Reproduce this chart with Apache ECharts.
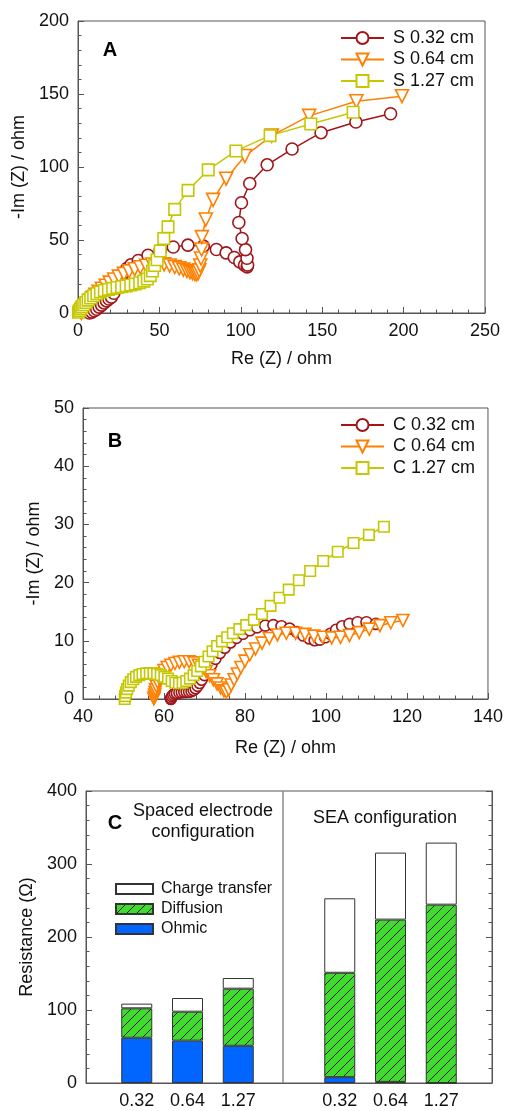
<!DOCTYPE html>
<html>
<head>
<meta charset="utf-8">
<title>Impedance spectra and resistance breakdown</title>
<script src="https://cdn.jsdelivr.net/npm/echarts@6/dist/echarts.min.js"></script>
<style>
  html, body { margin: 0; padding: 0; background: #ffffff; }
  #chart { width: 506px; height: 1111px; }
</style>
</head>
<body>
<div id="chart"></div>
<script>
// ---- Panel A: Nyquist plots, spaced electrodes (Re, -Im in ohm) ----
const s032 = [
  [7, 0], [8.5, 0.6], [10, 1.5], [11.5, 2.6], [13, 4], [14.5, 5.4], [16, 6.9], [17.5, 8.3],
  [19, 9.6], [20.5, 10.9], [22, 13.5], [23.5, 17], [25, 20.5], [26.5, 24], [28, 27.5],
  [30, 30.5], [32.5, 33], [37, 36], [43, 39.6], [50.5, 43], [58.5, 45.2], [67.5, 46.5],
  [77, 45.8], [85, 43.5], [91, 41.2], [96, 38], [99.4, 35], [102.3, 32.8], [103.9, 31.6],
  [104.2, 32.8], [103.8, 37.5], [102.9, 43.4], [100.8, 51], [98.8, 62], [100.4, 75.5],
  [105.5, 88.7], [116.2, 101.5], [131.5, 112.3], [149.3, 123.5], [170.7, 130.8], [192, 136.5]
];
const s064 = [
  [2, 0], [2.5, 1], [3.2, 2.2], [4, 3.5], [5, 5], [6.2, 6.7], [7.5, 8.5], [9, 10.4],
  [10.7, 12.4], [12.6, 14.5], [14.7, 16.6], [17, 18.7], [19.5, 20.8], [22.2, 22.9],
  [25.1, 24.9], [28.2, 26.8], [31.4, 28.5], [34.8, 30], [38.3, 31.3], [41.9, 32.4],
  [45.6, 33.2], [49.3, 33.5], [52.9, 33.3], [56.3, 32.5], [59.4, 31.5], [62.2, 30.6],
  [64.7, 29.7], [66.9, 28.8], [68.8, 28], [70.4, 27.3], [71.8, 26.8], [72.9, 26.6],
  [73.8, 27.3], [74.5, 29.2], [75.1, 32.5], [75.6, 37.3], [75.9, 43.5], [76.1, 52],
  [78.5, 64], [83, 77.5], [91, 92], [102.5, 107.5], [119, 121.5], [142, 135], [171, 145], [199, 148.5]
];
const s127 = [
  [0.3, 0.5], [0.8, 1.5], [1.5, 2.8], [2.4, 4.2], [3.5, 5.7], [4.8, 7.2], [6.2, 8.8],
  [7.8, 10.3], [9.6, 11.8], [11.6, 13.2], [13.8, 14.4], [16.2, 15.4], [18.7, 16.2],
  [21.3, 16.9], [24, 17.5], [26.8, 18], [29.6, 18.6], [32.4, 19.2], [35.2, 19.9],
  [37.9, 20.7], [40.4, 21.8], [42.6, 23.3], [44.4, 25.6], [45.8, 28.8], [47.1, 32.5],
  [48.6, 36.5], [50.5, 42.5], [52.7, 51], [55.3, 59], [59.4, 71], [67.6, 84], [80, 98],
  [97, 111], [118, 121.5], [143, 129.5], [169, 137.5]
];

// ---- Panel B: Nyquist plots, SEA (cloth) configuration ----
const c032 = [
  [61.7, 0], [61.8, 0.2], [62, 0.45], [62.3, 0.7], [62.7, 0.9], [63.2, 1], [63.8, 1.1],
  [64.4, 1.15], [65, 1.2], [65.6, 1.2], [66.2, 1.25], [66.8, 1.35], [67.3, 1.55], [67.8, 1.85],
  [68.3, 2.25], [68.8, 2.75], [69.3, 3.3], [70, 4.1], [70.8, 5], [71.7, 5.9], [72.7, 6.9],
  [73.8, 7.9], [75, 8.8], [76.4, 9.7], [77.9, 10.5], [79.5, 11.2], [81.2, 11.8], [83, 12.3],
  [85, 12.6], [87, 12.7], [89, 12.5], [91, 12.1], [92.8, 11.5], [94.4, 10.9], [95.9, 10.4],
  [97.2, 10.1], [98.5, 10.2], [99.8, 10.6], [101.1, 11.2], [102.5, 11.9], [104, 12.5],
  [105.8, 12.9], [107.8, 13.2], [110, 13.2], [112.3, 12.9]
];
const c064 = [
  [57.5, 0], [57.6, 0.3], [57.7, 0.7], [57.8, 1.1], [57.9, 1.6], [58.1, 2.2], [58.4, 2.9],
  [58.8, 3.6], [59.3, 4.3], [60, 4.9], [60.8, 5.4], [61.7, 5.8], [62.7, 6.1], [63.8, 6.3],
  [65, 6.4], [66.2, 6.4], [67.4, 6.2], [68.5, 5.8], [69.5, 5.3], [70.4, 4.7], [71.3, 4.0],
  [72.2, 3.3], [73.1, 2.6], [74, 1.9], [74.8, 1.4], [75.4, 1.2], [76, 1.6], [76.6, 2.4],
  [77.3, 3.3], [78.1, 4.3], [79, 5.4], [80, 6.5], [81.2, 7.6], [82.6, 8.6], [84.2, 9.6],
  [86, 10.4], [88, 11], [90.2, 11.3], [92.5, 11.3], [94.8, 11.1], [97, 10.8], [99.2, 10.6],
  [101.4, 10.5], [103.6, 10.6], [105.8, 10.9], [108.2, 11.4], [110.7, 12], [113.3, 12.6],
  [116, 13.1], [119, 13.5]
];
const c127 = [
  [50.3, 0], [50.4, 0.5], [50.6, 1.1], [50.9, 1.7], [51.3, 2.3], [51.8, 2.9], [52.4, 3.4],
  [53.1, 3.8], [53.9, 4.1], [54.7, 4.3], [55.6, 4.4], [56.5, 4.4], [57.4, 4.4], [58.3, 4.3],
  [59.2, 4.1], [60.1, 3.8], [61, 3.5], [61.9, 3.1], [62.8, 2.8], [63.7, 2.7], [64.6, 2.8],
  [65.5, 3.1], [66.4, 3.5], [67.3, 4.1], [68.2, 4.8], [69.1, 5.6], [70, 6.4], [71, 7.3],
  [72, 8.2], [73.1, 9.1], [74.3, 9.9], [75.6, 10.6], [77, 11.3], [78.6, 12], [80.3, 12.7],
  [82.2, 13.6], [84.2, 14.6], [86.3, 16], [88.5, 17.4], [90.8, 18.8], [93.3, 20.4],
  [96.1, 22], [99.3, 23.7], [102.9, 25.3], [106.8, 26.8], [110.6, 28.2], [114.3, 29.6]
];

// ---- Panel C: resistance breakdown (ohm) ----
// slots: padding, spaced 0.32/0.64/1.27, gap, SEA 0.32/0.64/1.27, padding
const barSlots = ['pad-l', 'Spaced 0.32', 'Spaced 0.64', 'Spaced 1.27', 'gap',
                  'SEA 0.32', 'SEA 0.64', 'SEA 1.27', 'pad-r'];
const slotLabels = ['', '0.32', '0.64', '1.27', '', '0.32', '0.64', '1.27', ''];
const ohmic          = ['-', 62, 58, 51, '-', 8, 1.5, 0, '-'];
const diffusion      = ['-', 40.3, 39.7, 78.2, '-', 143, 222.3, 244.3, '-'];
const chargeTransfer = ['-', 6.4, 18.7, 14.6, '-', 102, 91.8, 85, '-'];
const dividerPos = 3.875;   // separator between the two configurations

const FONT = 'Arial, "Liberation Sans", Helvetica, sans-serif';
const AXIS = '#555555';
const TXT = '#111111';

const colRed = '#a0161a';
const colOrange = '#ff8000';
const colYellow = '#c4c800';

// diagonal hatch fill for the diffusion bars
function hatchPattern() {
  const c = document.createElement('canvas');
  c.width = 10; c.height = 10;
  const g = c.getContext('2d');
  g.fillStyle = '#3fdc2e';
  g.fillRect(0, 0, 10, 10);
  g.strokeStyle = '#1a1a1a';
  g.lineWidth = 1;
  g.beginPath();
  g.moveTo(-1, 11); g.lineTo(11, -1);
  g.moveTo(-1, 1); g.lineTo(1, -1);
  g.moveTo(9, 11); g.lineTo(11, 9);
  g.stroke();
  return { image: c, repeat: 'repeat' };
}

function valAxis(extra) {
  return Object.assign({
    type: 'value',
    axisLine: { show: true, lineStyle: { color: AXIS, width: 1 } },
    axisTick: { show: true, inside: true, length: 6, lineStyle: { color: AXIS } },
    minorTick: { show: true, splitNumber: 5, length: 3.5, lineStyle: { color: AXIS } },
    splitLine: { show: false },
    axisLabel: { fontSize: 18, color: TXT, fontFamily: FONT, margin: 9 },
    nameLocation: 'middle',
    nameTextStyle: { fontSize: 18, color: TXT, fontFamily: FONT }
  }, extra);
}

function nyquist(name, data, color, symbol, rotate, axisIdx, size) {
  return {
    name: name, type: 'line', data: data,
    xAxisIndex: axisIdx, yAxisIndex: axisIdx,
    symbol: symbol, symbolRotate: rotate, symbolSize: size,
    showAllSymbol: true,
    lineStyle: { color: color, width: 1.5 },
    itemStyle: { color: '#ffffff', borderColor: color, borderWidth: 1.6 },
    emphasis: { disabled: true }
  };
}

function lineLegend(names, top) {
  return {
    data: names, orient: 'vertical', left: 340, top: top, padding: 0,
    itemWidth: 43, itemHeight: 15, itemGap: 3.5,
    textStyle: { fontSize: 18, color: TXT, fontFamily: FONT, padding: [0, 0, 0, 4] },
    selectedMode: false
  };
}

const hatch = hatchPattern();
const barBase = { type: 'bar', stack: 'total', barWidth: 31, xAxisIndex: 2, yAxisIndex: 2,
                  emphasis: { disabled: true } };

const option = {
  animation: false,
  backgroundColor: '#ffffff',
  grid: [
    { left: 78, top: 21, width: 407, height: 292, show: true, borderColor: AXIS, borderWidth: 1 },
    { left: 83, top: 408, width: 406, height: 291, show: true, borderColor: AXIS, borderWidth: 1 },
    { left: 86, top: 791, width: 406, height: 292, show: true, borderColor: AXIS, borderWidth: 1 }
  ],
  xAxis: [
    valAxis({ gridIndex: 0, min: 0, max: 250, interval: 50, name: 'Re (Z) / ohm', nameGap: 37 }),
    valAxis({ gridIndex: 1, min: 40, max: 140, interval: 20, name: 'Re (Z) / ohm', nameGap: 40 }),
    {
      type: 'category', gridIndex: 2, data: barSlots, boundaryGap: false,
      axisLine: { show: true, lineStyle: { color: AXIS, width: 1 } },
      axisTick: { show: false },
      axisLabel: { interval: 0, fontSize: 18, color: TXT, fontFamily: FONT, margin: 9,
                   formatter: function (v, i) { return slotLabels[i]; } }
    },
    { type: 'value', gridIndex: 2, min: 0, max: barSlots.length - 1, show: false }
  ],
  yAxis: [
    valAxis({ gridIndex: 0, min: 0, max: 200, interval: 50, name: '-Im (Z) / ohm', nameGap: 42 }),
    valAxis({ gridIndex: 1, min: 0, max: 50, interval: 10, name: '-Im (Z) / ohm', nameGap: 36 }),
    valAxis({ gridIndex: 2, min: 0, max: 400, interval: 100, name: 'Resistance (Ω)', nameGap: 49 }),
    valAxis({ gridIndex: 2, min: 0, max: 400, interval: 100, position: 'right',
              axisLabel: { show: false } })
  ],
  legend: [
    lineLegend(['S 0.32 cm', 'S 0.64 cm', 'S 1.27 cm'], 29),
    lineLegend(['C 0.32 cm', 'C 0.64 cm', 'C 1.27 cm'], 416),
    {
      data: ['Charge transfer', 'Diffusion', 'Ohmic'], orient: 'vertical', left: 115, top: 881,
      padding: 0, itemWidth: 37, itemHeight: 10, itemGap: 4, icon: 'rect',
      textStyle: { fontSize: 16, color: TXT, fontFamily: FONT, padding: [0, 0, 0, 3] },
      selectedMode: false
    }
  ],
  graphic: [
    { type: 'text', x: 110, y: 50, style: { text: 'A', font: 'bold 20px ' + FONT, fill: '#000',
      align: 'center', verticalAlign: 'middle' } },
    { type: 'text', x: 115, y: 441, style: { text: 'B', font: 'bold 20px ' + FONT, fill: '#000',
      align: 'center', verticalAlign: 'middle' } },
    { type: 'text', x: 115, y: 823, style: { text: 'C', font: 'bold 20px ' + FONT, fill: '#000',
      align: 'center', verticalAlign: 'middle' } },
    { type: 'text', x: 203, y: 822, style: { text: 'Spaced electrode\nconfiguration',
      font: '18px ' + FONT, fill: TXT, align: 'center', verticalAlign: 'middle', lineHeight: 21 } },
    { type: 'text', x: 385, y: 818, style: { text: 'SEA configuration',
      font: '18px ' + FONT, fill: TXT, align: 'center', verticalAlign: 'middle' } }
  ],
  series: [
    nyquist('S 0.32 cm', s032, colRed, 'circle', 0, 0, 12),
    nyquist('S 0.64 cm', s064, colOrange, 'triangle', 180, 0, 13),
    nyquist('S 1.27 cm', s127, colYellow, 'rect', 0, 0, 11.5),
    nyquist('C 0.32 cm', c032, colRed, 'circle', 0, 1, 11),
    nyquist('C 0.64 cm', c064, colOrange, 'triangle', 180, 1, 12),
    nyquist('C 1.27 cm', c127, colYellow, 'rect', 0, 1, 10.5),
    Object.assign({}, barBase, { name: 'Ohmic', data: ohmic,
      itemStyle: { color: '#0066ff', borderColor: '#333', borderWidth: 1 } }),
    Object.assign({}, barBase, { name: 'Diffusion', data: diffusion,
      itemStyle: { color: hatch, borderColor: '#333', borderWidth: 1 } }),
    Object.assign({}, barBase, { name: 'Charge transfer', data: chargeTransfer,
      itemStyle: { color: '#ffffff', borderColor: '#333', borderWidth: 1 } }),
    {
      name: 'divider', type: 'line', xAxisIndex: 3, yAxisIndex: 2, data: [],
      markLine: {
        silent: true, symbol: ['none', 'none'], label: { show: false },
        lineStyle: { color: '#8a8a8a', width: 1.5, type: 'solid' },
        data: [{ xAxis: dividerPos }]
      }
    }
  ]
};

const chart = echarts.init(document.getElementById('chart'), null, { renderer: 'canvas' });
chart.setOption(option);
</script>
</body>
</html>
